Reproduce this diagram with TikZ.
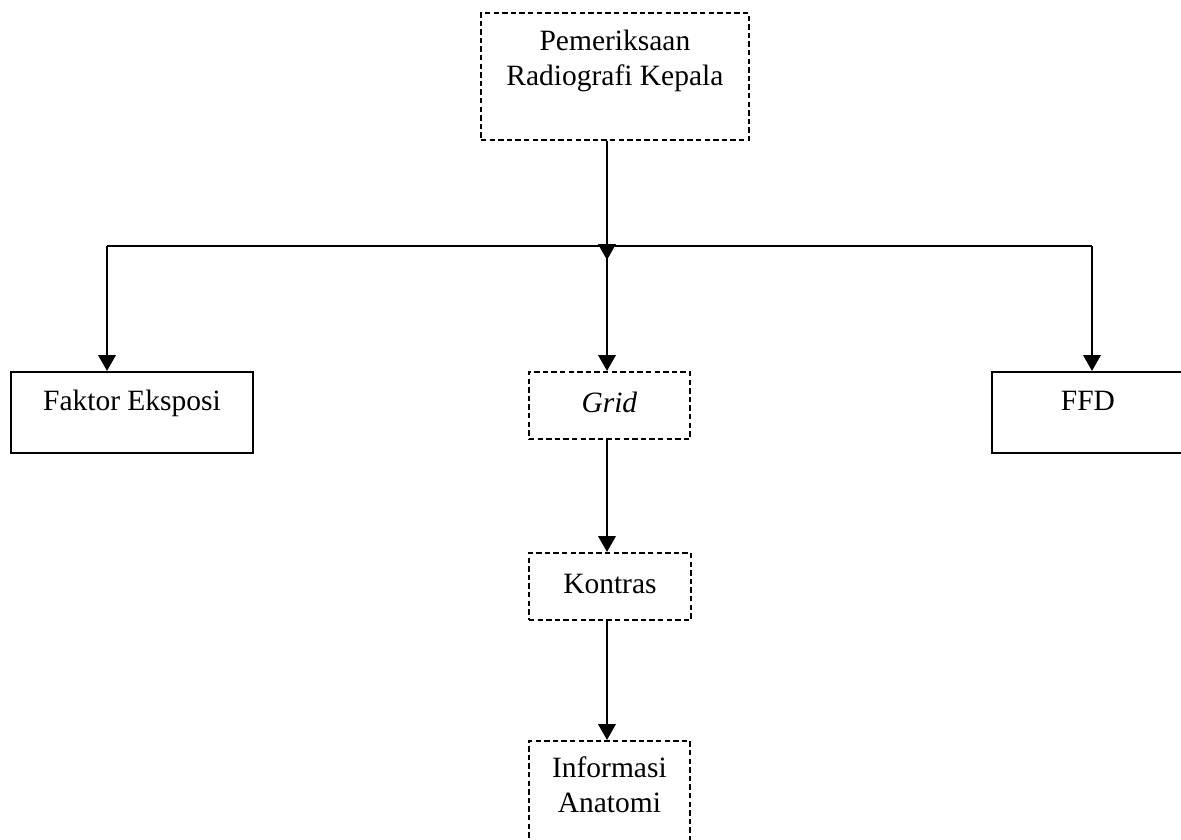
\documentclass[tikz,border=0pt]{standalone}
\usepackage{fontspec}
\setmainfont{Liberation Serif}
\usetikzlibrary{arrows.meta}

\newdimen\px \px=0.407pt

\tikzset{
  solidbox/.style={draw, line width=0.8pt, inner xsep=0pt, inner ysep=0pt, anchor=north west,
    font=\fontsize{12}{14.2}\selectfont},
  dbox/.style={solidbox, line width=0.75pt, dash pattern=on 2.2pt off 1.3pt},
  arr/.style={line width=1.2pt, -{Triangle[width=7pt,length=6.5pt]}},
}

\begin{document}
\begin{tikzpicture}[x=1\px, y=-1\px]
\useasboundingbox (0,0) rectangle (1181,839);
\clip (0,0) rectangle (1181,839);

% Boxes
\node (top) [dbox, minimum width=268\px, text height=38\px, text depth=89\px] at (480,12)
  {\begin{tabular}[t]{@{}c@{}}Pemeriksaan\\Radiografi Kepala\end{tabular}};
\node (fe) [solidbox, minimum width=242\px, text height=39\px, text depth=42\px] at (10,371) {Faktor Eksposi};
\node (grid) [dbox, minimum width=161\px, text height=41\px, text depth=26\px] at (528,371) {\textit{Grid}};
\node (ffd) [solidbox, minimum width=192\px, text height=39\px, text depth=42\px] at (991,371) {FFD};
\node (kontras) [dbox, minimum width=162\px, text height=41\px, text depth=26\px] at (528,552) {Kontras};
\node (info) [dbox, minimum width=161\px, text height=37\px, text depth=83\px] at (528,740)
  {\begin{tabular}[t]{@{}c@{}}Informasi\\Anatomi\end{tabular}};

% Branch points
\coordinate (hl) at (107,246);
\coordinate (hr) at (1092,246);
\coordinate (hm) at (607,260);

% Connectors
\draw[line width=0.8pt] (hl) -- (hr);
\draw[arr] (top.south -| hm) -- (hm);
\draw[arr] (hm |- hl) -- (hm |- grid.north);
\draw[arr] (hl) -- (hl |- fe.north);
\draw[arr] (hr) -- (hr |- ffd.north);
\draw[arr] (grid.south -| hm) -- (hm |- kontras.north);
\draw[arr] (kontras.south -| hm) -- (hm |- info.north);

\end{tikzpicture}
\end{document}
